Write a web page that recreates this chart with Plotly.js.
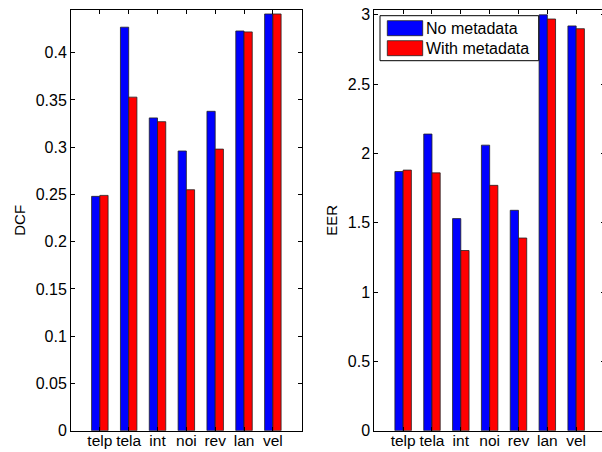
<!DOCTYPE html>
<html>
<head>
<meta charset="utf-8">
<script src="https://cdn.plot.ly/plotly-3.0.1.min.js"></script>
<style>
html,body{margin:0;padding:0;overflow:hidden;background:#fff;}
#chart{width:610px;height:452px;}
</style>
</head>
<body>
<div id="chart"></div>
<script>
const categories = ['telp','tela','int','noi','rev','lan','vel'];
const seriesNames = ['No metadata','With metadata'];
const dcfNoMeta   = [0.248, 0.427, 0.331, 0.296, 0.338, 0.423, 0.441];
const dcfWithMeta = [0.249, 0.353, 0.327, 0.255, 0.298, 0.422, 0.441];
const eerNoMeta   = [1.87, 2.14, 1.53, 2.06, 1.59, 3.00, 2.92];
const eerWithMeta = [1.88, 1.86, 1.30, 1.77, 1.39, 2.97, 2.90];
const seriesColors = ['#0000ff', '#ff0000'];

const W = 610, H = 452;
const fx = px => px / W;
const fy = py => 1 - py / H;
const FONT = 'Liberation Sans, Arial, Helvetica, sans-serif';
const FS = 16;
const TFS = 15;

function bar(x, y, i, xa, ya) {
  return {
    type: 'bar', x: x, y: y, name: seriesNames[i], xaxis: xa, yaxis: ya,
    marker: {color: seriesColors[i], line: {color: '#222', width: 0.8}},
    showlegend: false, hoverinfo: 'x+y+name'
  };
}

const data = [
  bar(categories, dcfNoMeta, 0, 'x', 'y'),
  bar(categories, dcfWithMeta, 1, 'x', 'y'),
  bar(categories, eerNoMeta, 0, 'x2', 'y2'),
  bar(categories, eerWithMeta, 1, 'x2', 'y2')
];

const axBase = {
  showline: true, linecolor: '#000', linewidth: 1, mirror: 'ticks',
  ticks: 'inside', ticklen: 4, tickcolor: '#000', tickwidth: 1,
  showgrid: false, zeroline: false,
  tickfont: {family: FONT, size: FS, color: '#000'}, fixedrange: true
};
const xBase = Object.assign({}, axBase, {type: 'category', range: [-1, 7], ticklabelstandoff: -4,
  tickfont: {family: FONT, size: 15.5, color: '#000'}});

const xLeft = [71, 301.7], xRight = [374.3, 605];
const yDom = [fy(430.7), fy(10)];

const layout = {
  width: W, height: H,
  margin: {l: 0, r: 0, t: 0, b: 0},
  paper_bgcolor: '#fff', plot_bgcolor: '#fff',
  font: {family: FONT, size: FS, color: '#000'},
  barmode: 'group', bargap: 0.4286, bargroupgap: 0,
  showlegend: false,
  xaxis: Object.assign({}, xBase, {domain: [fx(xLeft[0]), fx(xLeft[1])], anchor: 'y'}),
  yaxis: Object.assign({}, axBase, {domain: yDom, range: [0, 0.4452], tick0: 0, dtick: 0.05, anchor: 'x',
    title: {text: 'DCF', font: {family: FONT, size: TFS, color: '#000'}, standoff: 6}}),
  xaxis2: Object.assign({}, xBase, {domain: [fx(xRight[0]), fx(xRight[1])], anchor: 'y2'}),
  yaxis2: Object.assign({}, axBase, {domain: yDom, range: [0, 3.035], tick0: 0, dtick: 0.5, anchor: 'x2',
    title: {text: 'EER', font: {family: FONT, size: TFS, color: '#000'}, standoff: 6}}),
  shapes: [
    {type: 'rect', xref: 'paper', yref: 'paper', x0: fx(380), x1: fx(538.7), y0: fy(60.7), y1: fy(15.7),
     line: {color: '#000', width: 1}, fillcolor: '#fff', layer: 'above'},
    {type: 'rect', xref: 'paper', yref: 'paper', x0: fx(387.3), x1: fx(422.7), y0: fy(35.7), y1: fy(20.7),
     line: {color: '#222', width: 0.8}, fillcolor: seriesColors[0], layer: 'above'},
    {type: 'rect', xref: 'paper', yref: 'paper', x0: fx(387.3), x1: fx(422.7), y0: fy(55.7), y1: fy(40.7),
     line: {color: '#222', width: 0.8}, fillcolor: seriesColors[1], layer: 'above'}
  ],
  annotations: [
    {xref: 'paper', yref: 'paper', x: fx(424), y: fy(28.2), xanchor: 'left', yanchor: 'middle',
     text: seriesNames[0], showarrow: false, font: {family: FONT, size: FS, color: '#000'}},
    {xref: 'paper', yref: 'paper', x: fx(424), y: fy(48.2), xanchor: 'left', yanchor: 'middle',
     text: seriesNames[1], showarrow: false, font: {family: FONT, size: FS, color: '#000'}}
  ]
};

Plotly.newPlot('chart', data, layout, {displayModeBar: false, staticPlot: true});
</script>
</body>
</html>
